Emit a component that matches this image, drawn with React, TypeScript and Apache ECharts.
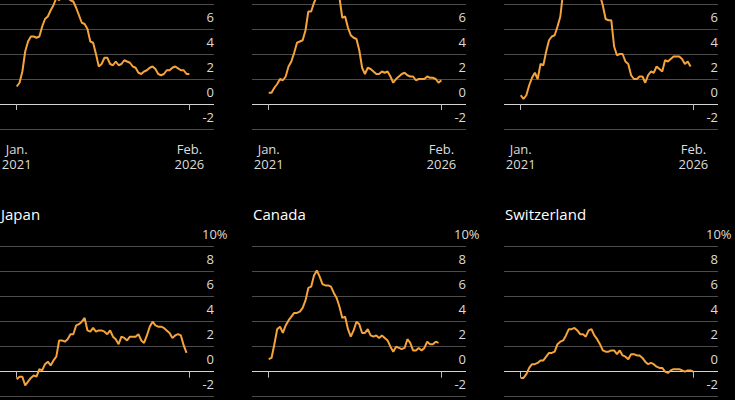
import React, { useEffect, useRef } from "react";
import * as echarts from "echarts";

// Months counted from Jan. 2021 (0) onward
const xTickMonths = [0, 61];
const xTickLabels = ["Jan.\n2021", "Feb.\n2026"];
const yMin = -2;
const yMax = 10;
const yStep = 2;

const bottomTitles = ["Japan", "Canada", "Switzerland"];

// Year-over-year inflation, %, monthly from Jan. 2021
const usData = [
  1.4, 1.7, 2.6, 4.2, 5.0, 5.4, 5.4, 5.3, 5.4, 6.2, 6.8, 7.0,
  7.5, 7.9, 8.5, 8.3, 8.6, 9.1, 8.5, 8.3, 8.2, 7.7, 7.1, 6.5,
  6.4, 6.0, 5.0, 4.9, 4.0, 3.0, 3.2, 3.7, 3.7, 3.2, 3.1, 3.4,
  3.1, 3.2, 3.5, 3.4, 3.3, 3.0, 2.9, 2.5, 2.4, 2.6, 2.7, 2.9,
  3.0, 2.8, 2.4, 2.3, 2.4, 2.7, 2.7, 2.9, 3.0, 2.85, 2.7, 2.7,
  2.4, 2.4,
];
const euroData = [
  0.9, 0.9, 1.3, 1.6, 2.0, 1.9, 2.2, 3.0, 3.4, 4.1, 4.9, 5.0,
  5.1, 5.9, 7.4, 7.4, 8.1, 8.6, 8.9, 9.1, 9.9, 10.6, 10.1, 9.2,
  8.6, 8.5, 6.9, 7.0, 6.1, 5.5, 5.3, 5.2, 4.3, 2.9, 2.4, 2.9,
  2.8, 2.6, 2.4, 2.4, 2.6, 2.5, 2.6, 2.2, 1.7, 2.0, 2.2, 2.4,
  2.5, 2.3, 2.2, 2.2, 1.9, 2.0, 2.0, 2.0, 2.2, 2.1, 2.1, 2.0,
  1.7, 1.9,
];
const ukData = [
  0.7, 0.4, 0.7, 1.5, 2.1, 2.5, 2.0, 3.2, 3.1, 4.2, 5.1, 5.4,
  5.5, 6.2, 7.0, 9.0, 9.1, 9.4, 10.1, 9.9, 10.1, 11.1, 10.7, 10.5,
  10.1, 10.4, 10.1, 8.7, 8.7, 7.9, 6.8, 6.7, 6.7, 4.6, 3.9, 4.0,
  4.0, 3.4, 3.2, 2.3, 2.0, 2.0, 2.2, 2.2, 1.7, 2.3, 2.6, 2.5,
  3.0, 2.8, 2.6, 3.5, 3.4, 3.6, 3.8, 3.8, 3.8, 3.6, 3.2, 3.4,
  3.0,
];
const japanData = [
  -0.6, -0.4, -0.4, -1.1, -0.8, -0.5, -0.3, -0.4, 0.2, 0.1, 0.6, 0.8,
  0.5, 0.9, 1.2, 2.5, 2.5, 2.4, 2.6, 3.0, 3.0, 3.7, 3.8, 4.0,
  4.3, 3.3, 3.2, 3.5, 3.2, 3.3, 3.3, 3.2, 3.0, 3.3, 2.8, 2.6,
  2.2, 2.8, 2.7, 2.5, 2.8, 2.8, 2.8, 3.0, 2.5, 2.3, 2.9, 3.6,
  4.0, 3.7, 3.6, 3.6, 3.5, 3.3, 3.1, 2.7, 2.9, 3.0, 2.9, 2.1,
  1.5,
];
const canadaData = [
  1.0, 1.1, 2.2, 3.4, 3.6, 3.1, 3.7, 4.1, 4.4, 4.7, 4.7, 4.8,
  5.1, 5.7, 6.7, 6.8, 7.7, 8.1, 7.6, 7.0, 6.9, 6.9, 6.8, 6.3,
  5.9, 5.2, 4.3, 4.4, 3.4, 2.8, 3.3, 4.0, 3.8, 3.1, 3.1, 3.4,
  2.9, 2.8, 2.9, 2.7, 2.9, 2.7, 2.5, 2.0, 1.6, 2.0, 1.9, 1.8,
  1.9, 2.6, 2.3, 1.7, 1.7, 1.9, 1.7, 1.9, 2.4, 2.2, 2.2, 2.4,
  2.3,
];
const swissData = [
  -0.5, -0.5, -0.2, 0.3, 0.6, 0.6, 0.7, 0.9, 0.9, 1.2, 1.5, 1.5,
  1.6, 2.2, 2.4, 2.5, 2.9, 3.4, 3.4, 3.5, 3.3, 3.0, 3.0, 2.8,
  3.3, 3.4, 2.9, 2.6, 2.2, 1.7, 1.6, 1.6, 1.7, 1.7, 1.4, 1.7,
  1.3, 1.2, 1.0, 1.4, 1.4, 1.3, 1.3, 1.1, 0.8, 0.6, 0.7, 0.6,
  0.4, 0.3, 0.3, 0.0, -0.1, 0.1, 0.2, 0.2, 0.2, 0.1, 0.0, 0.1,
  0.1, 0.0,
];

const panels = [usData, euroData, ukData, japanData, canadaData, swissData];

const FONT = "Open Sans";
const LINE = "#f5a33a";
const GRID = "#4b4b4b";
const ZERO = "#d4d4d4";
const TEXT = "#dcdcdc";

export default function App() {
  const ref = useRef<HTMLDivElement>(null);

  useEffect(() => {
    document.body.style.background = "#000";
    const chart = echarts.init(ref.current!, undefined, { renderer: "svg" });

    const lefts = [0, 252, 504];
    const tops = [39, 306.7];
    const gridW = 214;
    const gridH = 150;

    const splitColors: string[] = [];
    for (let v = yMin; v <= yMax; v += yStep) splitColors.push(v === 0 ? ZERO : GRID);

    const grids: any[] = [];
    const xAxes: any[] = [];
    const yAxes: any[] = [];
    const series: any[] = [];

    panels.forEach((vals, i) => {
      const col = i % 3;
      const row = Math.floor(i / 3);
      // the picture is a crop: the top row's upper labels and the bottom row's
      // date labels lie outside it
      const topRow = row === 0;
      grids.push({
        left: lefts[col],
        top: tops[row],
        width: gridW,
        height: gridH,
        containLabel: false,
        outerBoundsMode: "none",
      });
      xAxes.push({
        type: "value",
        gridIndex: i,
        min: -5.9,
        max: 69.7,
        axisLine: { show: false },
        splitLine: { show: false },
        axisTick: {
          show: true,
          customValues: xTickMonths,
          length: 6,
          lineStyle: { color: "#bdbdbd", width: 1 },
        },
        axisLabel: {
          show: topRow,
          customValues: xTickMonths,
          formatter: (v: number) => xTickLabels[xTickMonths.indexOf(v)] ?? "",
          color: TEXT,
          fontFamily: FONT,
          fontSize: 13,
          lineHeight: 15,
          margin: 12.5,
        },
      });
      yAxes.push({
        type: "value",
        gridIndex: i,
        position: "right",
        min: yMin,
        max: yMax,
        interval: yStep,
        axisLine: { show: false },
        axisTick: { show: false },
        splitLine: { show: true, lineStyle: { color: splitColors, width: 1 } },
        axisLabel: {
          inside: true,
          margin: 0,
          align: "right",
          verticalAlign: "bottom",
          padding: [0, 0, 6, 0],
          color: TEXT,
          fontFamily: FONT,
          fontSize: 13,
          formatter: (v: number) => {
            if (topRow && v >= 8) return "";
            return v === yMax ? `{pct|${v}%}` : `${v}`;
          },
          rich: {
            pct: {
              width: 12,
              align: "left",
              color: TEXT,
              fontFamily: FONT,
              fontSize: 13,
            },
          },
        },
      });
      series.push({
        type: "line",
        xAxisIndex: i,
        yAxisIndex: i,
        data: vals.map((v, m) => [m, v]),
        showSymbol: false,
        symbol: "none",
        lineStyle: { color: LINE, width: 2 },
        itemStyle: { color: LINE },
        z: 5,
      });
    });

    const titles = bottomTitles.map((t, c) => ({
      text: t,
      left: lefts[c] + 1,
      top: 266.5,
      padding: 0,
      textStyle: { color: "#ffffff", fontFamily: FONT, fontSize: 15, fontWeight: "normal" },
    }));

    chart.setOption({
      animation: false,
      backgroundColor: "#000",
      title: titles,
      grid: grids,
      xAxis: xAxes,
      yAxis: yAxes,
      series,
    });

    return () => chart.dispose();
  }, []);

  return (
    <div
      ref={ref}
      style={{ position: "absolute", left: 0, top: -60, width: 735, height: 460, background: "#000" }}
    />
  );
}
